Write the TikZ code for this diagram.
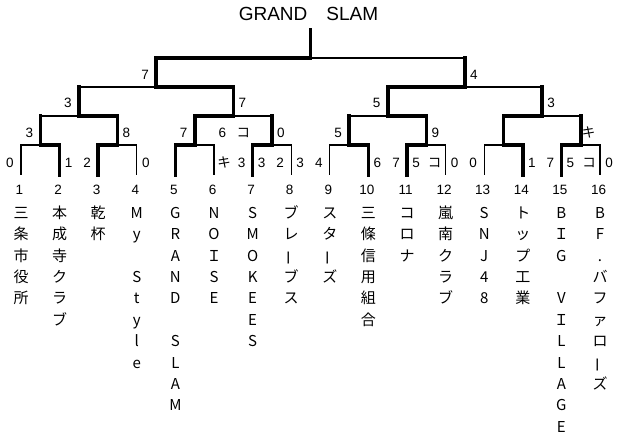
\documentclass[tikz,border=0pt]{standalone}
\usepackage{fontspec}
\setmainfont{Liberation Sans}
\newfontfamily\jpfont{Noto Sans CJK JP}
\usetikzlibrary{calc}
\tikzset{
	win/.style={line width=3.6pt, line cap=rect},
	lose/.style={line width=1.3pt},
	score/.style={font=\fontsize{13.5}{13.5}\selectfont, inner sep=0pt, text height=9.6pt, text depth=0pt},
	namechar/.style={font=\jpfont\fontsize{15}{15}\selectfont, inner sep=0pt, text height=10.6pt, text depth=0pt},
}
\newcommand{\vbar}{\rotatebox[origin=c]{90}{ー}}

\begin{document}
\begin{tikzpicture}[x=1pt, y=-1pt]
	\useasboundingbox (0,0) rectangle (620,435);
	% bracket points
	\foreach \i in {1,...,16}
		\coordinate (p\i) at ({21+38.6*(\i-1)}, 175);
	\foreach \i in {1,...,8}
		\coordinate (m\i) at ({40.3+77.2*(\i-1)}, 145);
	\foreach \i in {1,...,4}
		\coordinate (q\i) at ({78.9+154.4*(\i-1)}, 116);
	\foreach \i in {1,2}
		\coordinate (s\i) at ({156.1+308.8*(\i-1)}, 87);
	\coordinate (fin) at (310.5, 58);
	\coordinate (crown) at (310.5, 30);

	\node[font=\fontsize{19}{19}\selectfont, inner sep=0pt] (title) at (308.5,14) {GRAND\quad SLAM};

	% first round: winner/loser/meeting point
	\foreach \w/\l/\m in {2/1/1, 3/4/2, 5/6/3, 7/8/4, 10/9/5, 11/12/6, 14/13/7, 15/16/8}{
		\draw[lose] (p\l) |- (m\m);
		\draw[win] (p\w) |- (m\m);
	}
	% later rounds
	\foreach \w/\l/\m in {m2/m1/q1, m3/m4/q2, m6/m5/q3, m7/m8/q4, q2/q1/s1, q3/q4/s2, s1/s2/fin}{
		\draw[lose] (\l |- \m) -- (\m);
		\draw[win] (\l) -- (\l |- \m);
		\draw[win] (\w) |- (\m);
	}
	\draw[win] (fin) -- (crown);

	% scores
	\foreach \base/\dx/\dy/\txt [count=\k] in {p1/-11/12/0, p2/9/12/1, p3/-11/12/2, p4/9/12/0,
		p6/10/12/{\jpfont キ}, p7/-11/12/3, p7/9/12/3, p8/-11/12/2, p8/9/12/3,
		p9/-11/12/4, p10/9/12/6, p11/-11/12/7, p11/9/12/5, p12/-11/12/{\jpfont コ}, p12/9/12/0,
		p13/-11/12/0, p14/9/12/1, p15/-11/12/7, p15/9/12/5, p16/-11/12/{\jpfont コ}, p16/9/12/0,
		m1/-11/12/3, m2/9/12/8, m3/-11/12/7, q2/-11/-17/6, q2/10/-17/{\jpfont コ}, m4/9/12/0,
		m5/-11/12/5, m6/9/12/9, m8/8/12/{\jpfont キ},
		q1/-11/13/3, q2/9/13/7, q3/-11/13/5, q4/9/13/3,
		s1/-11/12/7, s2/9/12/4}
		\node[score] (sc\k) at ([xshift=\dx pt, yshift=\dy pt]\base) {\txt};

	% team numbers
	\foreach \i in {1,...,16}
		\node[score] (t\i) at ([xshift=-1.5pt, yshift=-15pt]p\i) {\i};

	% team names, one character per line
	\foreach \i/\name in {1/{三,条,市,役,所}, 2/{本,成,寺,ク,ラ,ブ}, 3/{乾,杯},
		4/{M,y,,S,t,y,l,e}, 5/{G,R,A,N,D,,S,L,A,M}, 6/{N,O,Ｉ,S,E},
		7/{S,M,O,K,E,E,S}, 8/{ブ,レ,\vbar,ブ,ス}, 9/{ス,タ,\vbar,ズ},
		10/{三,條,信,用,組,合}, 11/{コ,ロ,ナ}, 12/{嵐,南,ク,ラ,ブ},
		13/{S,N,J,4,8}, 14/{ト,ッ,プ,工,業}, 15/{B,Ｉ,G,,V,Ｉ,L,L,A,G,E},
		16/{B,F,.,バ,フ,ァ,ロ,\vbar,ズ}}
		\foreach \c [count=\k from 0] in \name
			\node[namechar] (n\i-\k) at ([yshift={-38-21.4*\k}]p\i) {\c};
\end{tikzpicture}
\end{document}
